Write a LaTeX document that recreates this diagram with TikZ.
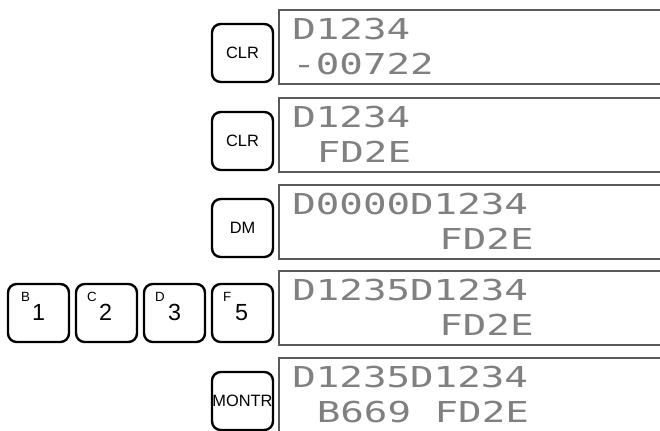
\documentclass[tikz,border=0pt]{standalone}
\usepackage{fontspec}
\setmainfont{Liberation Sans}
\newfontfamily\lcdfont[FakeStretch=1.36]{DejaVu Sans Mono}
\usetikzlibrary{calc}
\tikzset{
  keybox/.style={draw, line width=1.8pt, rounded corners=6.5pt, minimum width=45.75pt,
    minimum height=43.5pt, inner sep=0pt, font=\fontsize{12.3}{14}\selectfont},
  lcd/.style={anchor=base west, inner sep=0pt, text=black!50,
    font=\lcdfont\fontsize{21.6}{24}\selectfont},
  dispframe/.style={draw=black!65, line width=0.8pt},
  keysup/.style={anchor=base west, inner sep=0pt, font=\fontsize{10}{12}\selectfont},
  keydigit/.style={anchor=base, inner sep=0pt, font=\fontsize{17.5}{20}\selectfont}
}
\begin{document}
\begin{tikzpicture}[x=0.75pt,y=-0.75pt]
\useasboundingbox (0,0) rectangle (660,430);
% displays
\draw[dispframe] (662,10) -- (279,10) -- (279,84) -- (662,84);
\draw[dispframe] (662,98) -- (279,98) -- (279,172) -- (662,172);
\draw[dispframe] (662,185) -- (279,185) -- (279,259) -- (662,259);
\draw[dispframe] (662,271) -- (279,271) -- (279,345) -- (662,345);
\draw[dispframe] (662,358) -- (279,358) -- (279,434);
% display texts
\node[lcd] (d1a) at (292,39) {D1234};
\node[lcd] (d1b) at (292,74) {-00722};
\node[lcd] (d2a) at (292,127) {D1234};
\node[lcd] (d2b) at (316.5,162) {FD2E};
\node[lcd] (d3a) at (292,214) {D0000D1234};
\node[lcd] (d3b) at (439,249) {FD2E};
\node[lcd] (d4a) at (292,300) {D1235D1234};
\node[lcd] (d4b) at (439,335) {FD2E};
\node[lcd] (d5a) at (292,387) {D1235D1234};
\node[lcd] (d5b) at (316.5,422) {B669~FD2E};
% keys
\node[keybox] (clr1) at (242.5,53) {CLR};
\node[keybox] (clr2) at (242.5,141) {CLR};
\node[keybox] (dm) at (242.5,228) {DM};
\node[keybox] (k1) at (38.5,313) {};
\node[keybox] (k2) at (106.5,313) {};
\node[keybox] (k3) at (174.5,313) {};
\node[keybox] (k5) at (242.5,313) {};
\node[keybox] (montr) at (242.5,401) {MONTR};
% key legends
\node[keysup] (k1s) at ($(k1.north west)+(14,19)$) {B};
\node[keydigit] (k1d) at ($(k1.north)+(0,38)$) {1};
\node[keysup] (k2s) at ($(k2.north west)+(12,19)$) {C};
\node[keydigit] (k2d) at ($(k2.north)+(-1,38)$) {2};
\node[keysup] (k3s) at ($(k3.north west)+(12,19)$) {D};
\node[keydigit] (k3d) at ($(k3.north)+(0,38)$) {3};
\node[keysup] (k5s) at ($(k5.north west)+(12,19)$) {F};
\node[keydigit] (k5d) at ($(k5.north)+(-1,38)$) {5};
\end{tikzpicture}
\end{document}
